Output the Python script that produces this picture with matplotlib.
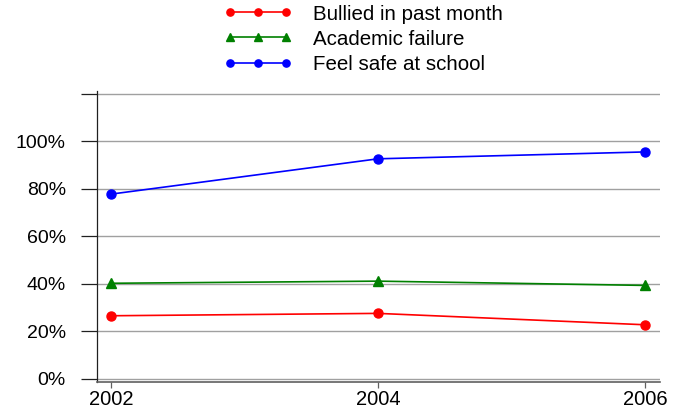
import matplotlib
matplotlib.use("Agg")
import matplotlib.pyplot as plt
from matplotlib.ticker import FixedLocator

years = [2002, 2004, 2006]
bullied = [0.265, 0.275, 0.227]
academic = [0.402, 0.411, 0.393]
safe = [0.778, 0.927, 0.956]
labels = ["Bullied in past month", "Academic failure", "Feel safe at school"]
ytick_vals = [0.0, 0.2, 0.4, 0.6, 0.8, 1.0, 1.2]
ytick_labels = ["0%", "20%", "40%", "60%", "80%", "100%", ""]

plt.rcParams['font.family'] = ['Liberation Sans', 'DejaVu Sans']

fig = plt.figure(figsize=(6.81, 4.12), dpi=100)
ax = fig.add_axes([97/681, 1-382/412, (660-97)/681, (382-91)/412])

ax.plot(years, bullied, color='#ff0000', marker='o', ms=6.5, lw=1.2, label=labels[0], clip_on=False, zorder=3)
ax.plot(years, academic, color='#008000', marker='^', ms=7, lw=1.2, label=labels[1], clip_on=False, zorder=3)
ax.plot(years, safe, color='#0000ff', marker='o', ms=6.5, lw=1.2, label=labels[2], clip_on=False, zorder=3)

ax.set_xlim(2002 - 14/133.5, 2006 + 15/133.5)
ax.set_ylim(-0.0144, 1.213)
ax.set_xticks(years)
ax.set_xticklabels([str(y) for y in years])
ax.yaxis.set_major_locator(FixedLocator(ytick_vals))
ax.set_yticklabels(ytick_labels)

for v in ytick_vals:
    ax.axhline(v, color='#a0a0a0', lw=1.0, zorder=1)

for s in ['top', 'right']:
    ax.spines[s].set_visible(False)
ax.spines['left'].set_color('#202020')
ax.spines['bottom'].set_color('#606060')
ax.spines['left'].set_linewidth(0.9)
ax.spines['bottom'].set_linewidth(1.2)

ax.tick_params(axis='y', length=11.5, width=0.9, color='#202020', labelsize=14, pad=11)
ax.tick_params(axis='x', length=4, width=0.9, color='#606060', labelsize=14.5, pad=2)

leg = fig.legend(loc='upper left', bbox_to_anchor=(205/681, 1.0 + 14/412), frameon=False,
                 fontsize=14.8, numpoints=3, handlelength=3.35, handletextpad=0.98,
                 labelspacing=0.3, markerscale=0.8)

fig.savefig("out.png", dpi=100)
